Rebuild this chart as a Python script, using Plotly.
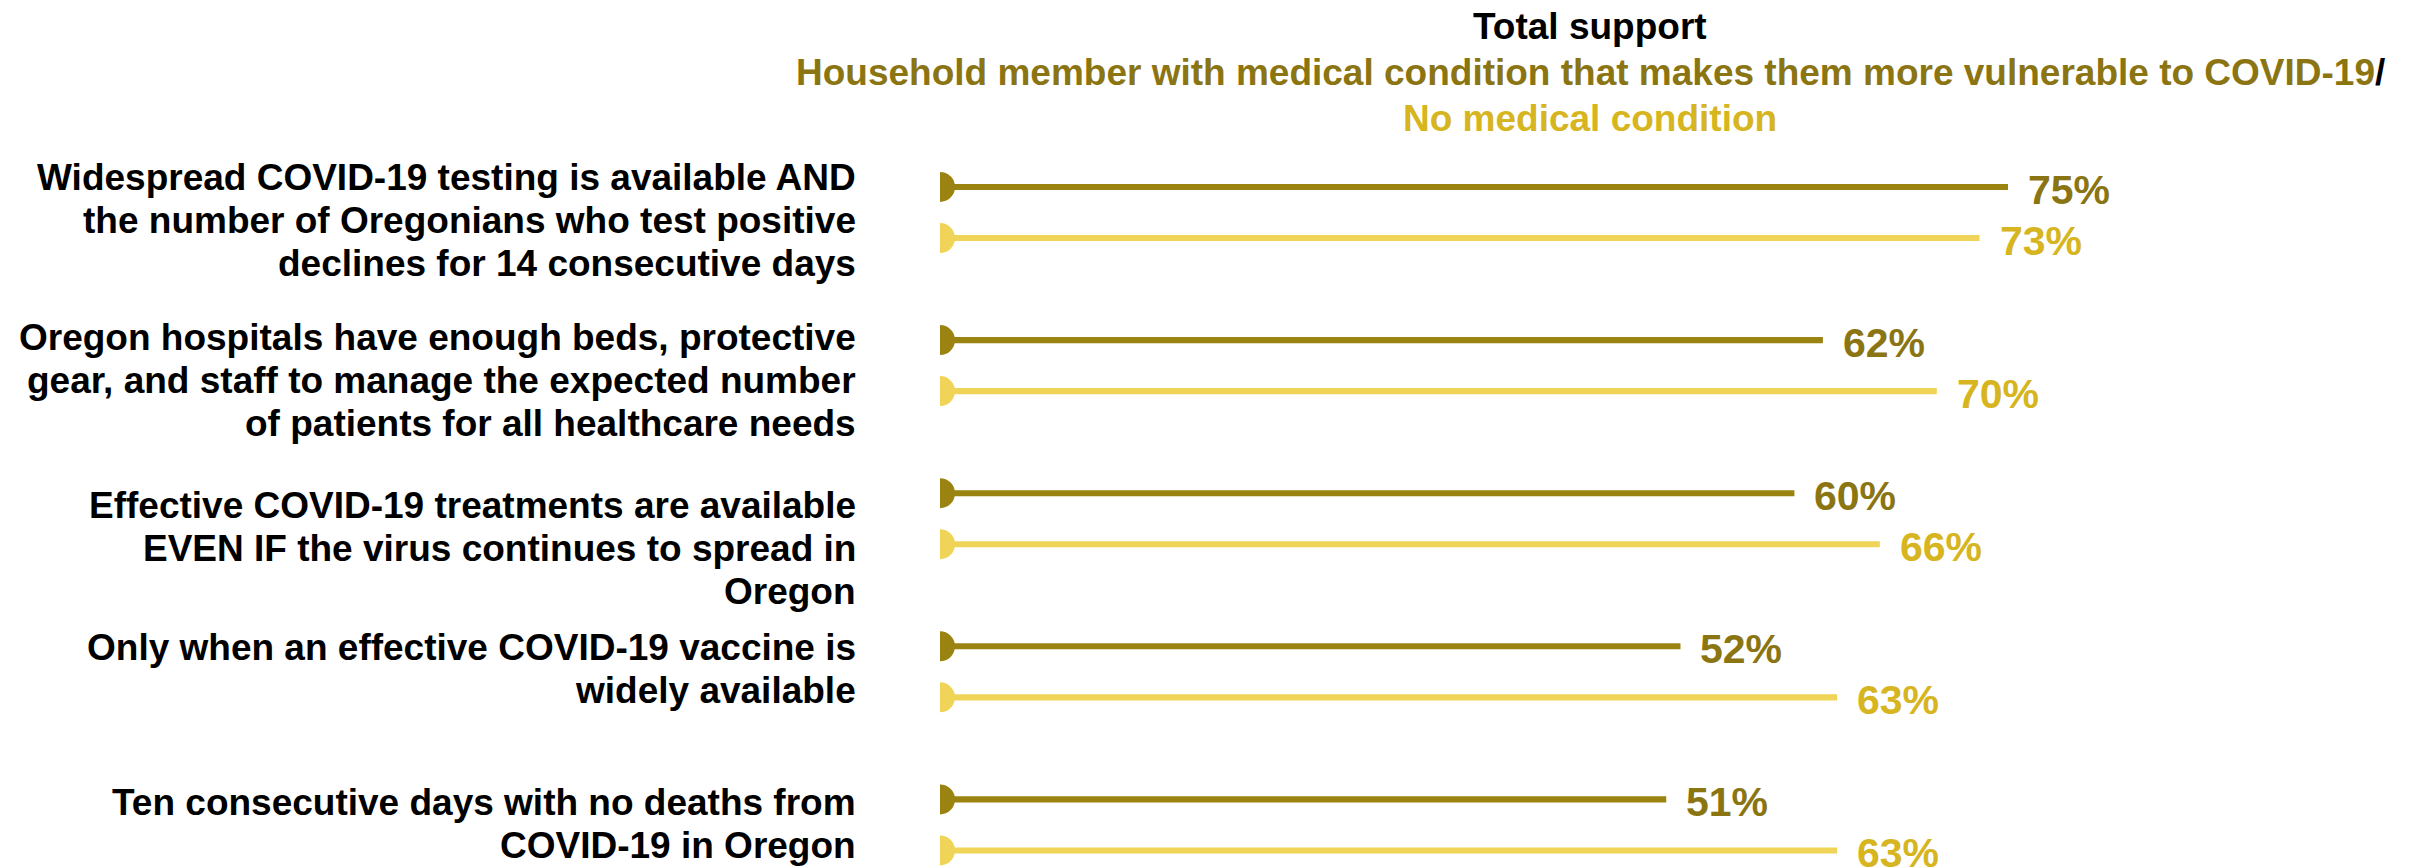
import plotly.graph_objs as go

# Survey data: share of support for reopening conditions
conditions = [
    'Widespread COVID-19 testing is available AND<br>the number of Oregonians who test positive<br>declines for 14 consecutive days',
    'Oregon hospitals have enough beds, protective<br>gear, and staff to manage the expected number<br>of patients for all healthcare needs',
    'Effective COVID-19 treatments are available<br>EVEN IF the virus continues to spread in<br>Oregon',
    'Only when an effective COVID-19 vaccine is<br>widely available',
    'Ten consecutive days with no deaths from<br>COVID-19 in Oregon',
]
medical_condition = [75, 62, 60, 52, 51]
no_medical_condition = [73, 70, 66, 63, 63]

dark = '#9a8310'
dark_text = '#8b7513'
light = '#efd457'
light_text = '#d6b520'
font = 'Liberation Sans, Arial, sans-serif'

# each condition gets a slot, two lines per slot
offset = 1 / 6
ydark = [i - offset for i in range(len(conditions))]
ylight = [i + offset for i in range(len(conditions))]

fig = go.Figure()
for yy, vals, col in [(ydark, medical_condition, dark), (ylight, no_medical_condition, light)]:
    fig.add_trace(go.Bar(
        x=vals,
        y=yy,
        orientation='h',
        width=0.04,
        marker=dict(color=col, line=dict(width=0)),
        hoverinfo='skip',
        showlegend=False,
    ))
    # round caps at the start, half cut off by the plot edge
    fig.add_trace(go.Scatter(
        x=[0] * len(vals),
        y=yy,
        mode='markers',
        marker=dict(color=col, size=30, line=dict(width=0)),
        cliponaxis=True,
        hoverinfo='skip',
        showlegend=False,
    ))

annotations = []
for yy, vals, col in [(ydark, medical_condition, dark_text), (ylight, no_medical_condition, light_text)]:
    for y, v in zip(yy, vals):
        annotations.append(dict(
            x=v, y=y, xref='x', yref='y',
            text='<b>%d%%</b>' % v,
            showarrow=False, xanchor='left', yanchor='middle', xshift=18, yshift=-3,
            font=dict(family=font, size=41, color=col),
        ))

# condition labels, one line at a time so the spacing stays tight
label_shift = [-8, -15, -30, 3, 1]
line_gap = 43
for i, txt in enumerate(conditions):
    lines = txt.split('<br>')
    for j, line in enumerate(lines):
        annotations.append(dict(
            x=0, y=i, xref='x', yref='y',
            text='<b>%s</b>' % line,
            showarrow=False, xanchor='right', yanchor='middle', align='right',
            xshift=-82,
            yshift=label_shift[i] - (j - (len(lines) - 1) / 2) * line_gap,
            font=dict(family=font, size=37, color='black'),
        ))

# header, three centred lines above the bars
title_lines = [
    'Total support',
    '<span style="color:%s">Household member with medical condition that makes them more vulnerable to COVID-19</span>/' % dark_text,
    '<span style="color:%s">No medical condition</span>' % light_text,
]
for j, line in enumerate(title_lines):
    annotations.append(dict(
        x=0.4565, y=1, xref='paper', yref='paper',
        text='<b>%s</b>' % line,
        showarrow=False, xanchor='center', yanchor='middle',
        yshift=114 - j * 46,
        font=dict(family=font, size=37, color='black'),
    ))

fig.update_layout(
    width=2422,
    height=867,
    margin=dict(l=932, r=66, t=132, b=0),
    plot_bgcolor='white',
    paper_bgcolor='white',
    barmode='overlay',
    xaxis=dict(range=[0, 100], visible=False, fixedrange=True),
    yaxis=dict(range=[4.327, -0.4735], visible=False, fixedrange=True),
    annotations=annotations,
)

fig.write_html('out.html')
